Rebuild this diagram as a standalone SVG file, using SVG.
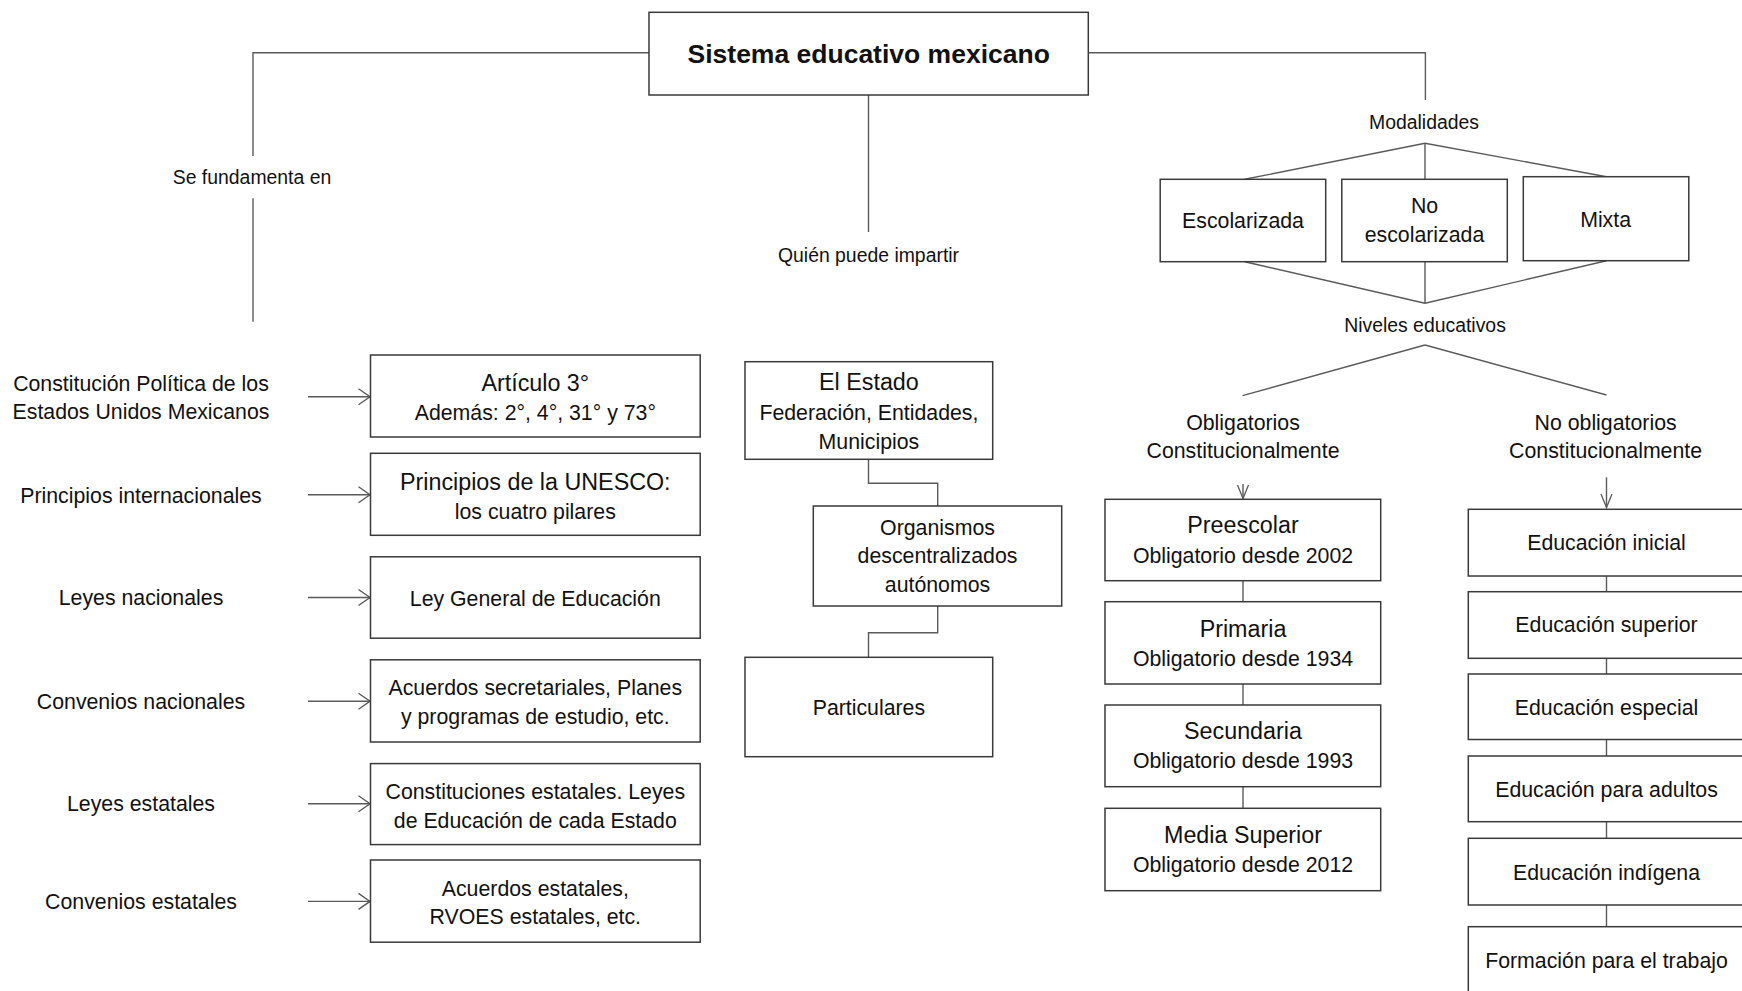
<svg xmlns="http://www.w3.org/2000/svg" width="1742" height="991" viewBox="0 0 1742 991">
<style>
  .box { fill: #ffffff; stroke: #3a3a3a; stroke-width: 1.5; }
  .ln { fill: none; stroke: #5a5a5a; stroke-width: 1.4; }
  text { font-family: "Liberation Sans", Arial, sans-serif; fill: #111111; text-anchor: middle; }
  .t { font-size: 21.3px; }
  .h { font-size: 23.3px; }
  .s { font-size: 19.4px; }
  .title { font-size: 26.5px; font-weight: bold; }
  .lbl { font-size: 21.3px; }
</style>
<defs>
  <marker id="arrR" markerUnits="userSpaceOnUse" markerWidth="14" markerHeight="18" refX="12" refY="8.5" orient="auto" overflow="visible">
    <path d="M0.5,0.5 L12,8.5 L0.5,16.5" fill="none" stroke="#5a5a5a" stroke-width="1.4"/>
  </marker>
  <marker id="arrD" markerUnits="userSpaceOnUse" markerWidth="15" markerHeight="12" refX="13.5" refY="5.5" orient="auto" overflow="visible">
    <path d="M0,0 L13.5,5.5 L0,11" fill="none" stroke="#5a5a5a" stroke-width="1.3"/>
  </marker>
</defs>
<rect width="1742" height="991" fill="#ffffff"/>

<g id="connectors">
  <!-- top branches -->
  <polyline class="ln" points="649,52.7 253,52.7 253,156"/>
  <line class="ln" x1="253" y1="198.3" x2="253" y2="321.7"/>
  <line class="ln" x1="868.5" y1="95" x2="868.5" y2="232"/>
  <polyline class="ln" points="1088.3,52.7 1425.4,52.7 1425.4,100"/>
  <!-- modalidades fan -->
  <line class="ln" x1="1425" y1="143.3" x2="1244.7" y2="179.3"/>
  <line class="ln" x1="1425" y1="143.3" x2="1425" y2="179.3"/>
  <line class="ln" x1="1425" y1="143.3" x2="1606.5" y2="176.7"/>
  <line class="ln" x1="1244.7" y1="261.7" x2="1425" y2="303.3"/>
  <line class="ln" x1="1425" y1="261.7" x2="1425" y2="303.3"/>
  <line class="ln" x1="1606.5" y1="260.7" x2="1425" y2="303.3"/>
  <!-- niveles fan -->
  <line class="ln" x1="1425" y1="345" x2="1242.5" y2="395.7"/>
  <line class="ln" x1="1425" y1="345" x2="1606.5" y2="395"/>
  <!-- left arrows -->
  <line class="ln" x1="308" y1="396.8" x2="370" y2="396.8" marker-end="url(#arrR)"/>
  <line class="ln" x1="308" y1="494.8" x2="370" y2="494.8" marker-end="url(#arrR)"/>
  <line class="ln" x1="308" y1="597.5" x2="370" y2="597.5" marker-end="url(#arrR)"/>
  <line class="ln" x1="308" y1="701.2" x2="370" y2="701.2" marker-end="url(#arrR)"/>
  <line class="ln" x1="308" y1="803.8" x2="370" y2="803.8" marker-end="url(#arrR)"/>
  <line class="ln" x1="308" y1="901.4" x2="370" y2="901.4" marker-end="url(#arrR)"/>
  <!-- middle column -->
  <polyline class="ln" points="868.5,459.3 868.5,483.3 937.7,483.3 937.7,506"/>
  <polyline class="ln" points="937.7,606 937.7,632.7 868.5,632.7 868.5,657.3"/>
  <!-- down arrows -->
  <line class="ln" x1="1243" y1="484" x2="1243" y2="498.5" marker-end="url(#arrD)"/>
  <line class="ln" x1="1606.5" y1="477.3" x2="1606.5" y2="507.5" marker-end="url(#arrD)"/>
  <!-- obligatorios chain -->
  <line class="ln" x1="1243" y1="580.7" x2="1243" y2="601.7"/>
  <line class="ln" x1="1243" y1="684" x2="1243" y2="705"/>
  <line class="ln" x1="1243" y1="786.7" x2="1243" y2="808.3"/>
  <!-- no obligatorios chain -->
  <line class="ln" x1="1606.5" y1="576" x2="1606.5" y2="591.7"/>
  <line class="ln" x1="1606.5" y1="658.3" x2="1606.5" y2="674"/>
  <line class="ln" x1="1606.5" y1="739.5" x2="1606.5" y2="756"/>
  <line class="ln" x1="1606.5" y1="821.7" x2="1606.5" y2="838.3"/>
  <line class="ln" x1="1606.5" y1="905" x2="1606.5" y2="926.7"/>
</g>

<g id="n-main">
  <rect class="box" x="649" y="12.3" width="439.3" height="82.7"/>
  <text class="title" x="868.7" y="63.3">Sistema educativo mexicano</text>
</g>

<g id="l-fundamenta"><text class="s" x="252" y="184">Se fundamenta en</text></g>
<g id="l-quien"><text class="s" x="868.5" y="262">Quién puede impartir</text></g>
<g id="l-modalidades"><text class="s" x="1424" y="129">Modalidades</text></g>
<g id="l-niveles"><text class="s" x="1425" y="331.5">Niveles educativos</text></g>

<!-- left labels -->
<g id="l-constitucion"><text class="lbl" x="141" y="390.7">Constitución Política de los</text><text class="lbl" x="141" y="419">Estados Unidos Mexicanos</text></g>
<g id="l-principios"><text class="lbl" x="141" y="502.7">Principios internacionales</text></g>
<g id="l-leyesnac"><text class="lbl" x="141" y="605">Leyes nacionales</text></g>
<g id="l-convnac"><text class="lbl" x="141" y="708.7">Convenios nacionales</text></g>
<g id="l-leyesest"><text class="lbl" x="141" y="811.3">Leyes estatales</text></g>
<g id="l-convest"><text class="lbl" x="141" y="908.8">Convenios estatales</text></g>

<!-- left boxes -->
<g id="n-articulo">
  <rect class="box" x="370.5" y="355" width="329.7" height="82"/>
  <text class="h" x="535.3" y="390.5">Artículo 3°</text>
  <text class="t" x="535.3" y="419.5">Además: 2°, 4°, 31° y 73°</text>
</g>
<g id="n-unesco">
  <rect class="box" x="370.5" y="453.3" width="329.7" height="82"/>
  <text class="h" x="535.3" y="489.5">Principios de la UNESCO:</text>
  <text class="t" x="535.3" y="518.6">los cuatro pilares</text>
</g>
<g id="n-ley">
  <rect class="box" x="370.5" y="556.8" width="329.7" height="81.4"/>
  <text class="t" x="535.3" y="605.5">Ley General de Educación</text>
</g>
<g id="n-acuerdos">
  <rect class="box" x="370.5" y="659.8" width="329.7" height="82.2"/>
  <text class="t" x="535.3" y="695">Acuerdos secretariales, Planes</text>
  <text class="t" x="535.3" y="724">y programas de estudio, etc.</text>
</g>
<g id="n-constest">
  <rect class="box" x="370.5" y="763.6" width="329.7" height="81"/>
  <text class="t" x="535.3" y="799">Constituciones estatales. Leyes</text>
  <text class="t" x="535.3" y="828">de Educación de cada Estado</text>
</g>
<g id="n-acuerdosest">
  <rect class="box" x="370.5" y="860" width="329.7" height="82.2"/>
  <text class="t" x="535.3" y="895.6">Acuerdos estatales,</text>
  <text class="t" x="535.3" y="923.5">RVOES estatales, etc.</text>
</g>

<!-- middle column -->
<g id="n-estado">
  <rect class="box" x="745" y="361.7" width="247.7" height="97.6"/>
  <text class="h" x="868.9" y="390">El Estado</text>
  <text class="t" x="868.9" y="420">Federación, Entidades,</text>
  <text class="t" x="868.9" y="449">Municipios</text>
</g>
<g id="n-organismos">
  <rect class="box" x="813.3" y="506" width="248.4" height="100"/>
  <text class="t" x="937.5" y="535">Organismos</text>
  <text class="t" x="937.5" y="563.3">descentralizados</text>
  <text class="t" x="937.5" y="591.7">autónomos</text>
</g>
<g id="n-particulares">
  <rect class="box" x="745" y="657.3" width="247.7" height="99.4"/>
  <text class="t" x="868.9" y="715">Particulares</text>
</g>

<!-- modalidades -->
<g id="n-escolarizada">
  <rect class="box" x="1160.2" y="179.3" width="165.5" height="82.4"/>
  <text class="t" x="1243" y="228.3">Escolarizada</text>
</g>
<g id="n-noescolarizada">
  <rect class="box" x="1341.8" y="179.3" width="165.5" height="82.4"/>
  <text class="t" x="1424.5" y="213.3">No</text>
  <text class="t" x="1424.5" y="241.7">escolarizada</text>
</g>
<g id="n-mixta">
  <rect class="box" x="1523.3" y="176.7" width="165.5" height="84"/>
  <text class="t" x="1605.6" y="226.7">Mixta</text>
</g>

<g id="l-obligatorios"><text class="t" x="1243" y="430">Obligatorios</text><text class="t" x="1243" y="458.3">Constitucionalmente</text></g>
<g id="l-noobligatorios"><text class="t" x="1605.6" y="430">No obligatorios</text><text class="t" x="1605.6" y="458.3">Constitucionalmente</text></g>

<!-- obligatorios -->
<g id="n-preescolar">
  <rect class="box" x="1105" y="499.3" width="275.7" height="81.4"/>
  <text class="h" x="1243" y="533.3">Preescolar</text>
  <text class="t" x="1243" y="562.7">Obligatorio desde 2002</text>
</g>
<g id="n-primaria">
  <rect class="box" x="1105" y="601.7" width="275.7" height="82.3"/>
  <text class="h" x="1243" y="636.7">Primaria</text>
  <text class="t" x="1243" y="666">Obligatorio desde 1934</text>
</g>
<g id="n-secundaria">
  <rect class="box" x="1105" y="705" width="275.7" height="81.7"/>
  <text class="h" x="1243" y="739.3">Secundaria</text>
  <text class="t" x="1243" y="768.3">Obligatorio desde 1993</text>
</g>
<g id="n-media">
  <rect class="box" x="1105" y="808.3" width="275.7" height="82.4"/>
  <text class="h" x="1243" y="842.7">Media Superior</text>
  <text class="t" x="1243" y="871.7">Obligatorio desde 2012</text>
</g>

<!-- no obligatorios -->
<g id="n-inicial">
  <rect class="box" x="1468.3" y="509.3" width="277" height="66.7"/>
  <text class="t" x="1606.5" y="550">Educación inicial</text>
</g>
<g id="n-superior">
  <rect class="box" x="1468.3" y="591.7" width="277" height="66.6"/>
  <text class="t" x="1606.5" y="631.7">Educación superior</text>
</g>
<g id="n-especial">
  <rect class="box" x="1468.3" y="674" width="277" height="65.5"/>
  <text class="t" x="1606.5" y="715">Educación especial</text>
</g>
<g id="n-adultos">
  <rect class="box" x="1468.3" y="756" width="277" height="65.7"/>
  <text class="t" x="1606.5" y="796.7">Educación para adultos</text>
</g>
<g id="n-indigena">
  <rect class="box" x="1468.3" y="838.3" width="277" height="66.7"/>
  <text class="t" x="1606.5" y="880">Educación indígena</text>
</g>
<g id="n-formacion">
  <rect class="box" x="1468.3" y="926.7" width="277" height="70"/>
  <text class="t" x="1606.5" y="968.3">Formación para el trabajo</text>
</g>
</svg>
